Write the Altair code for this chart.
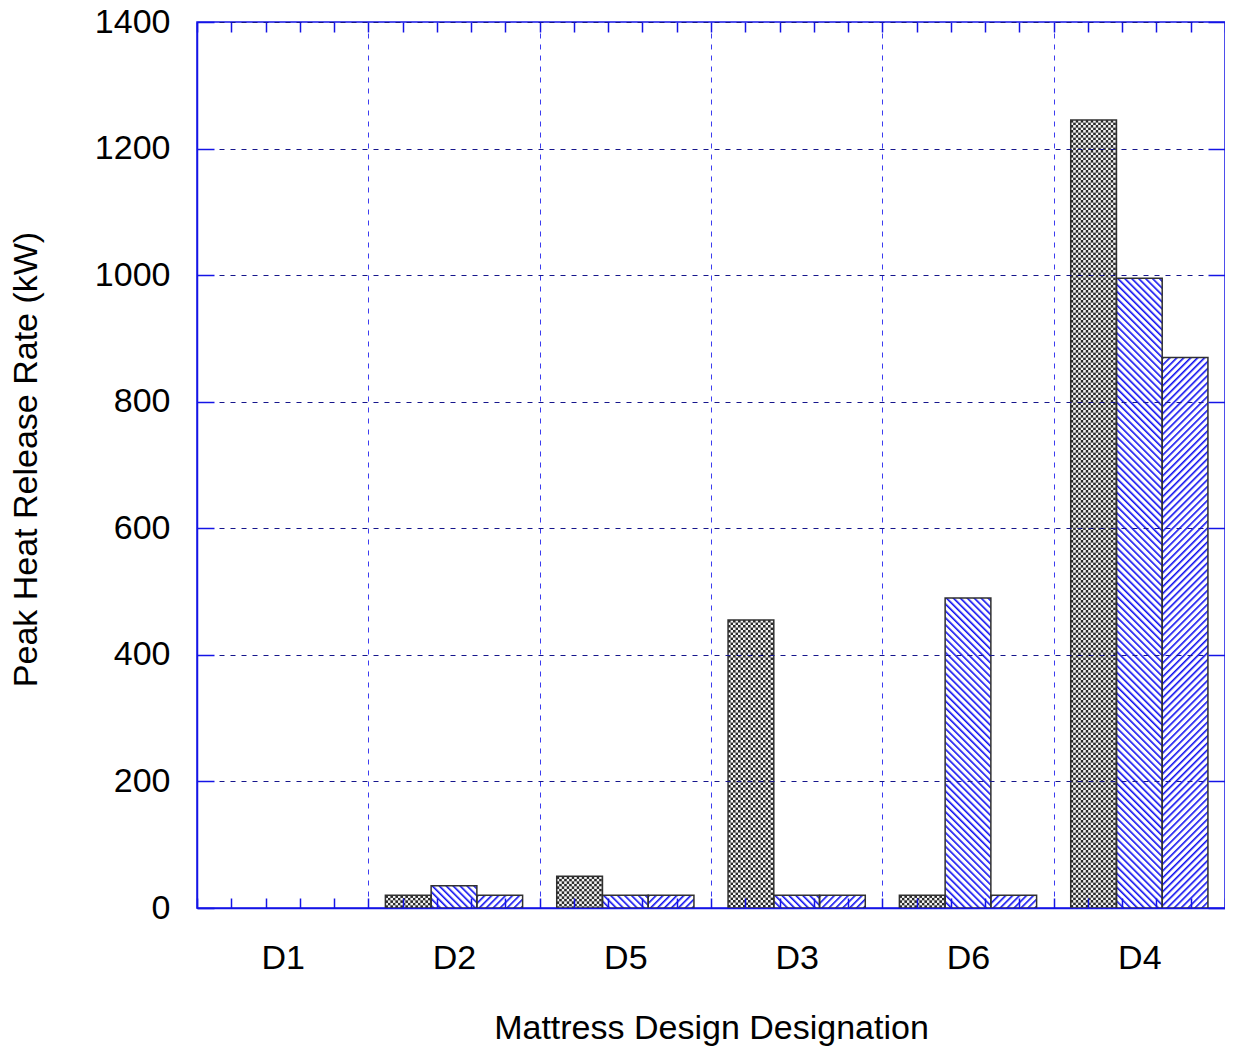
import altair as alt
import pandas as pd
from urllib.parse import quote

# ---- data ----
categories = ["D1", "D2", "D5", "D3", "D6", "D4"]
series = ["S1", "S2", "S3"]
values_s1 = [0, 20, 50, 455, 20, 1245]
values_s2 = [0, 35, 20, 20, 490, 995]
values_s3 = [0, 20, 20, 20, 20, 870]
y_tick_values = [0, 200, 400, 600, 800, 1000, 1200, 1400]
x_minor_ticks = [i / 5 for i in range(31)]  # 5 minor ticks per group, in group units

BLUE = "#1414e6"
GRID_H = "#16168c"
GRID_V = "#3c3cf0"
FONT = "Liberation Sans"

# ---- hatch textures (SVG data URIs used as image fills) ----
def svg_uri(pattern):
    svg = ("<svg xmlns='http://www.w3.org/2000/svg'><defs>" + pattern +
           "</defs><rect width='100%' height='100%' fill='url(#p)'/></svg>")
    return "data:image/svg+xml;charset=utf-8," + quote(svg)

cross = ("<pattern id='p' width='5' height='5' patternUnits='userSpaceOnUse'>"
         "<rect width='5' height='5' fill='#f4f4f4'/>"
         "<rect width='2.5' height='2.5' fill='#2a2a2a'/>"
         "<rect x='2.5' y='2.5' width='2.5' height='2.5' fill='#2a2a2a'/></pattern>")
back = ("<pattern id='p' width='4.9' height='4.9' patternUnits='userSpaceOnUse' "
        "patternTransform='rotate(-45)'><rect width='4.9' height='4.9' fill='#ffffff'/>"
        "<rect width='1.6' height='4.9' fill='#1010f0'/></pattern>")
fwd = ("<pattern id='p' width='4.9' height='4.9' patternUnits='userSpaceOnUse' "
       "patternTransform='rotate(45)'><rect width='4.9' height='4.9' fill='#ffffff'/>"
       "<rect width='1.6' height='4.9' fill='#1010f0'/></pattern>")
textures = {"S1": svg_uri(cross), "S2": svg_uri(back), "S3": svg_uri(fwd)}

rows = []
for s, vals in zip(series, [values_s1, values_s2, values_s3]):
    for c, v in zip(categories, vals):
        rows.append({"cat": c, "series": s, "value": v, "base": 0, "url": textures[s]})
df = pd.DataFrame(rows)

W, H = 1028, 886

x_scale = alt.Scale(domain=categories, paddingInner=0, paddingOuter=0)
y_scale = alt.Scale(domain=[0, 1400], nice=False, zero=True)
xoff = alt.XOffset("series:N", scale=alt.Scale(domain=series, paddingInner=0, paddingOuter=0.373))

images = alt.Chart(df).mark_image(aspect=False).encode(
    x=alt.X("cat:N", sort=categories, scale=x_scale, title="Mattress Design Designation",
            axis=alt.Axis(orient="bottom", tickBand="extent", grid=True, gridColor=GRID_V,
                          gridDash=[5, 6], gridWidth=1, ticks=False, tickSize=0,
                          domain=True, domainColor=BLUE, domainWidth=1.5,
                          labelAngle=0, labelPadding=33, titleY=120,
                          titleBaseline="middle", zindex=1)),
    xOffset=xoff,
    y=alt.Y("value:Q", scale=y_scale, title="Peak Heat Release Rate (kW)",
            axis=alt.Axis(orient="left", values=y_tick_values, format="d", grid=True,
                          gridColor=GRID_H, gridDash=[5, 6], gridWidth=1, ticks=False,
                          tickSize=0, domain=True, domainColor=BLUE, domainWidth=1.5,
                          labelPadding=27, titleX=-171, titleY=H / 2 - 6,
                          titleBaseline="middle", zindex=1)),
    y2=alt.Y2("base:Q"),
    url="url:N",
)

outline = alt.Chart(df).transform_filter("datum.value > 0").mark_bar(
    fillOpacity=0, stroke="#303030", strokeWidth=1.5
).encode(
    x=alt.X("cat:N", sort=categories, scale=x_scale, axis=None),
    xOffset=xoff,
    y=alt.Y("value:Q", scale=y_scale, axis=None),
)

tick_df = pd.DataFrame({"t": [0], "v": [0]})

def tick_layer(xorient, yorient):
    return alt.Chart(tick_df).mark_point(opacity=0).encode(
        x=alt.X("t:Q", title=None, scale=alt.Scale(domain=[0, 6], nice=False, zero=False),
                axis=alt.Axis(orient=xorient, values=x_minor_ticks, offset=-10, tickSize=10,
                              tickColor=BLUE, tickWidth=1.5, labels=False, domain=False,
                              grid=False, zindex=2)),
        y=alt.Y("v:Q", title=None, scale=y_scale,
                axis=alt.Axis(orient=yorient, values=y_tick_values, offset=-17, tickSize=17,
                              tickColor=BLUE, tickWidth=1.5, labels=False, domain=False,
                              grid=False, zindex=2)),
    )

chart = alt.layer(
    images, outline, tick_layer("bottom", "left"), tick_layer("top", "right")
).resolve_scale(x="independent").resolve_axis(x="independent", y="independent").properties(
    width=W, height=H,
    autosize=alt.AutoSizeParams(type="none"),
    padding={"left": 189, "top": 14, "right": 0, "bottom": 141},
).configure_view(
    stroke=BLUE, strokeWidth=1.5
).configure_axis(
    labelFont=FONT, labelFontSize=34, labelColor="#000000",
    titleFont=FONT, titleFontSize=34, titleFontWeight="normal", titleColor="#000000",
)

chart.save("out.html", embed_options={"renderer": "svg", "actions": False})
